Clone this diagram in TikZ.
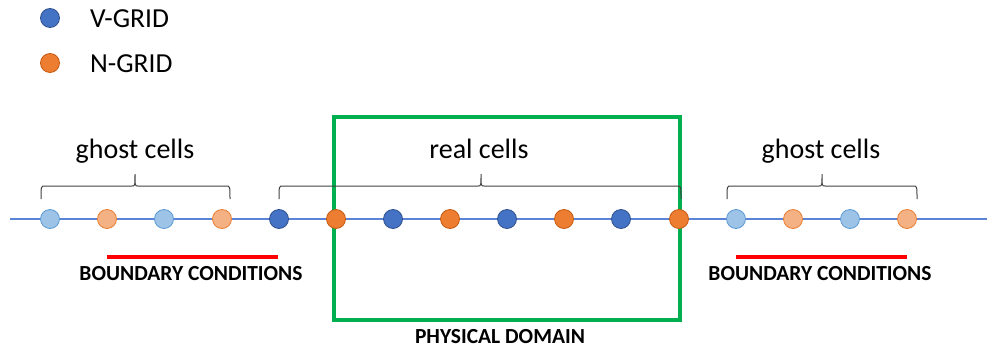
\documentclass[tikz,border=0pt]{standalone}
\usepackage{fontspec}
\setmainfont{Carlito}
\definecolor{vblue}{HTML}{4472C4}
\definecolor{vblueb}{HTML}{2F528F}
\definecolor{norange}{HTML}{ED7D31}
\definecolor{noranged}{HTML}{C55A11}
\definecolor{gblue}{HTML}{9DC3E6}
\definecolor{gblueb}{HTML}{5B9BD5}
\definecolor{gorange}{HTML}{F4B183}
\definecolor{gorangeb}{HTML}{ED7D31}
\definecolor{axis}{HTML}{5B84D6}
\definecolor{dgreen}{HTML}{00B050}
\definecolor{bracec}{HTML}{404040}
\tikzset{
  dot/.style={circle,minimum size=19pt,inner sep=0pt,line width=0.8pt},
  vg/.style={dot,fill=vblue,draw=vblueb},
  ng/.style={dot,fill=norange,draw=noranged},
  gv/.style={dot,fill=gblue,draw=gblueb},
  gn/.style={dot,fill=gorange,draw=gorangeb},
  lbl/.style={font=\fontsize{28}{31}\selectfont,anchor=base,inner sep=0pt},
  leg/.style={font=\fontsize{27.5}{30}\selectfont,anchor=base west,inner sep=0pt},
  bc/.style={font=\bfseries\fontsize{21.5}{24}\selectfont,anchor=base,inner sep=0pt},
  redbar/.style={red,line width=4pt},
  bracepath/.style={bracec,line width=1pt},
}
\begin{document}
\begin{tikzpicture}[x=1pt,y=-1pt]
\useasboundingbox (0,0) rectangle (987,351);
% legend
\node[vg] (lv) at (50,18) {};
\node[leg] (tv) at (90,27) {V-GRID};
\node[ng] (ln) at (50,63) {};
\node[leg] (tn) at (90,72) {N-GRID};
% axis
\coordinate (a0) at (10,219);
\coordinate (a1) at (987,219);
\draw[axis,line width=1.2pt] (a0) -- (a1);
% physical domain
\draw[dgreen,line width=3.5pt] (334,117) rectangle (680,320);
% dots
\node[gv] (c1) at (50,219) {};
\node[gn] (c2) at (107,219) {};
\node[gv] (c3) at (164,219) {};
\node[gn] (c4) at (222,219) {};
\node[vg] (c5) at (279,219) {};
\node[ng] (c6) at (336,219) {};
\node[vg] (c7) at (393,219) {};
\node[ng] (c8) at (450,219) {};
\node[vg] (c9) at (507,219) {};
\node[ng] (c10) at (564,219) {};
\node[vg] (c11) at (621,219) {};
\node[ng] (c12) at (679,219) {};
\node[gv] (c13) at (736,219) {};
\node[gn] (c14) at (793,219) {};
\node[gv] (c15) at (850,219) {};
\node[gn] (c16) at (907,219) {};
% braces
\draw[bracepath] (41,199) .. controls (41,186) .. (45,186) -- (132,186) .. controls (135,186) .. (135,174) .. controls (135,186) .. (138,186) -- (226,186) .. controls (230,186) .. (230,199);
\draw[bracepath] (279,199) .. controls (279,186) .. (283,186) -- (478,186) .. controls (481,186) .. (481,174) .. controls (481,186) .. (484,186) -- (677,186) .. controls (681,186) .. (681,199);
\draw[bracepath] (727,199) .. controls (727,186) .. (731,186) -- (819,186) .. controls (822,186) .. (822,174) .. controls (822,186) .. (825,186) -- (913,186) .. controls (917,186) .. (917,199);
% labels
\node[lbl] (g1) at (135,158) {ghost cells};
\node[lbl] (rc) at (479,158) {real cells};
\node[lbl] (g2) at (821,158) {ghost cells};
% boundary conditions
\draw[redbar] (107,257) -- (278,257);
\draw[redbar] (736,257) -- (907,257);
\node[bc] (bc1) at (191,280) {BOUNDARY CONDITIONS};
\node[bc] (bc2) at (820,280) {BOUNDARY CONDITIONS};
\node[bc] (pd) at (500,343) {PHYSICAL DOMAIN};
\end{tikzpicture}
\end{document}
